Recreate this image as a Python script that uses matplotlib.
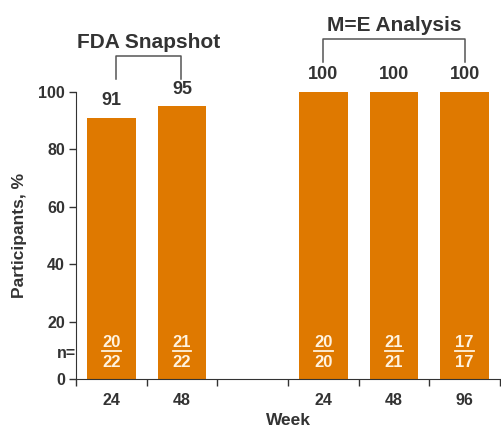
import numpy as np
import matplotlib.pyplot as plt

plt.rcParams['font.family'] = ['Liberation Sans', 'DejaVu Sans']
plt.rcParams['font.weight'] = 'bold'

# weeks per bar; slot 2 left empty to split the two analyses
semanas = ['24', '48', '24', '48', '96']
posiciones = [0, 1, 3, 4, 5]
porcentajes = [91, 95, 100, 100, 100]
respondedores = [20, 21, 20, 21, 17]
totales = [22, 22, 20, 21, 17]

naranja = '#DF7900'
gris = '#333333'
crema = '#FFF3E0'

fig = plt.figure(figsize=(5.01, 4.29), dpi=100)
ax = fig.add_axes([0.152, 0.1166, 0.846, 0.669])

ax.bar(posiciones, porcentajes, width=0.69, color=naranja)

for x, p, r, t in zip(posiciones, porcentajes, respondedores, totales):
    ax.text(x, p + 3, str(p), ha='center', va='bottom', fontsize=13,
            fontweight='bold', color=gris, clip_on=False)
    # n = responders over total, numerator underlined
    ax.text(x, 12.8, str(r), ha='center', va='center', fontsize=12,
            fontweight='bold', color=crema)
    ax.plot([x - 0.13, x + 0.13], [9.6, 9.6], color=crema, lw=1.3)
    ax.text(x, 5.8, str(t), ha='center', va='center', fontsize=12,
            fontweight='bold', color=crema)

ax.set_xlim(-0.5, 5.5)
ax.set_ylim(0, 100)
ax.set_xticks(np.arange(-0.5, 6, 1))
ax.set_xticklabels([])
ax.set_xticks(posiciones, minor=True)
ax.set_xticklabels(semanas, minor=True, fontsize=11.5, fontweight='bold',
                   color=gris)
ax.tick_params(axis='x', which='minor', length=0, pad=10)
ax.tick_params(axis='x', which='major', length=5, width=1, color=gris)

ax.set_yticks([0, 20, 40, 60, 80, 100])
ax.set_yticklabels(['0', '20', '40', '60', '80', '100'], fontsize=11.5,
                   fontweight='bold', color=gris)
ax.tick_params(axis='y', length=5, width=1, color=gris, pad=3)
ax.annotate('n=', xy=(0, 9), xycoords=('axes fraction', 'data'),
            xytext=(0, 0), textcoords='offset points', ha='right',
            va='center', fontsize=11.5, fontweight='bold', color=gris,
            annotation_clip=False)

for lado in ['top', 'right']:
    ax.spines[lado].set_visible(False)
ax.spines['left'].set_color(gris)
ax.spines['bottom'].set_color(gris)

ax.set_ylabel('Participants, %', fontsize=12.5, fontweight='bold',
              color=gris, labelpad=8)
ax.set_xlabel('Week', fontsize=12.5, fontweight='bold', color=gris,
              labelpad=4)

# brackets grouping the two analyses
def corchete(x0, x1, y0, y1, texto):
    ax.plot([x0, x0, x1, x1], [y0, y1, y1, y0], color='#555555', lw=1.1,
            clip_on=False)
    ax.text((x0 + x1) / 2, y1 + 1.5, texto, ha='center', va='bottom',
            fontsize=15, fontweight='bold', color=gris, clip_on=False)

corchete(0.06, 0.98, 104.5, 112.5, 'FDA Snapshot')
corchete(3.0, 5.0, 110.5, 118.5, 'M=E Analysis')

fig.savefig('out.png', dpi=100)
